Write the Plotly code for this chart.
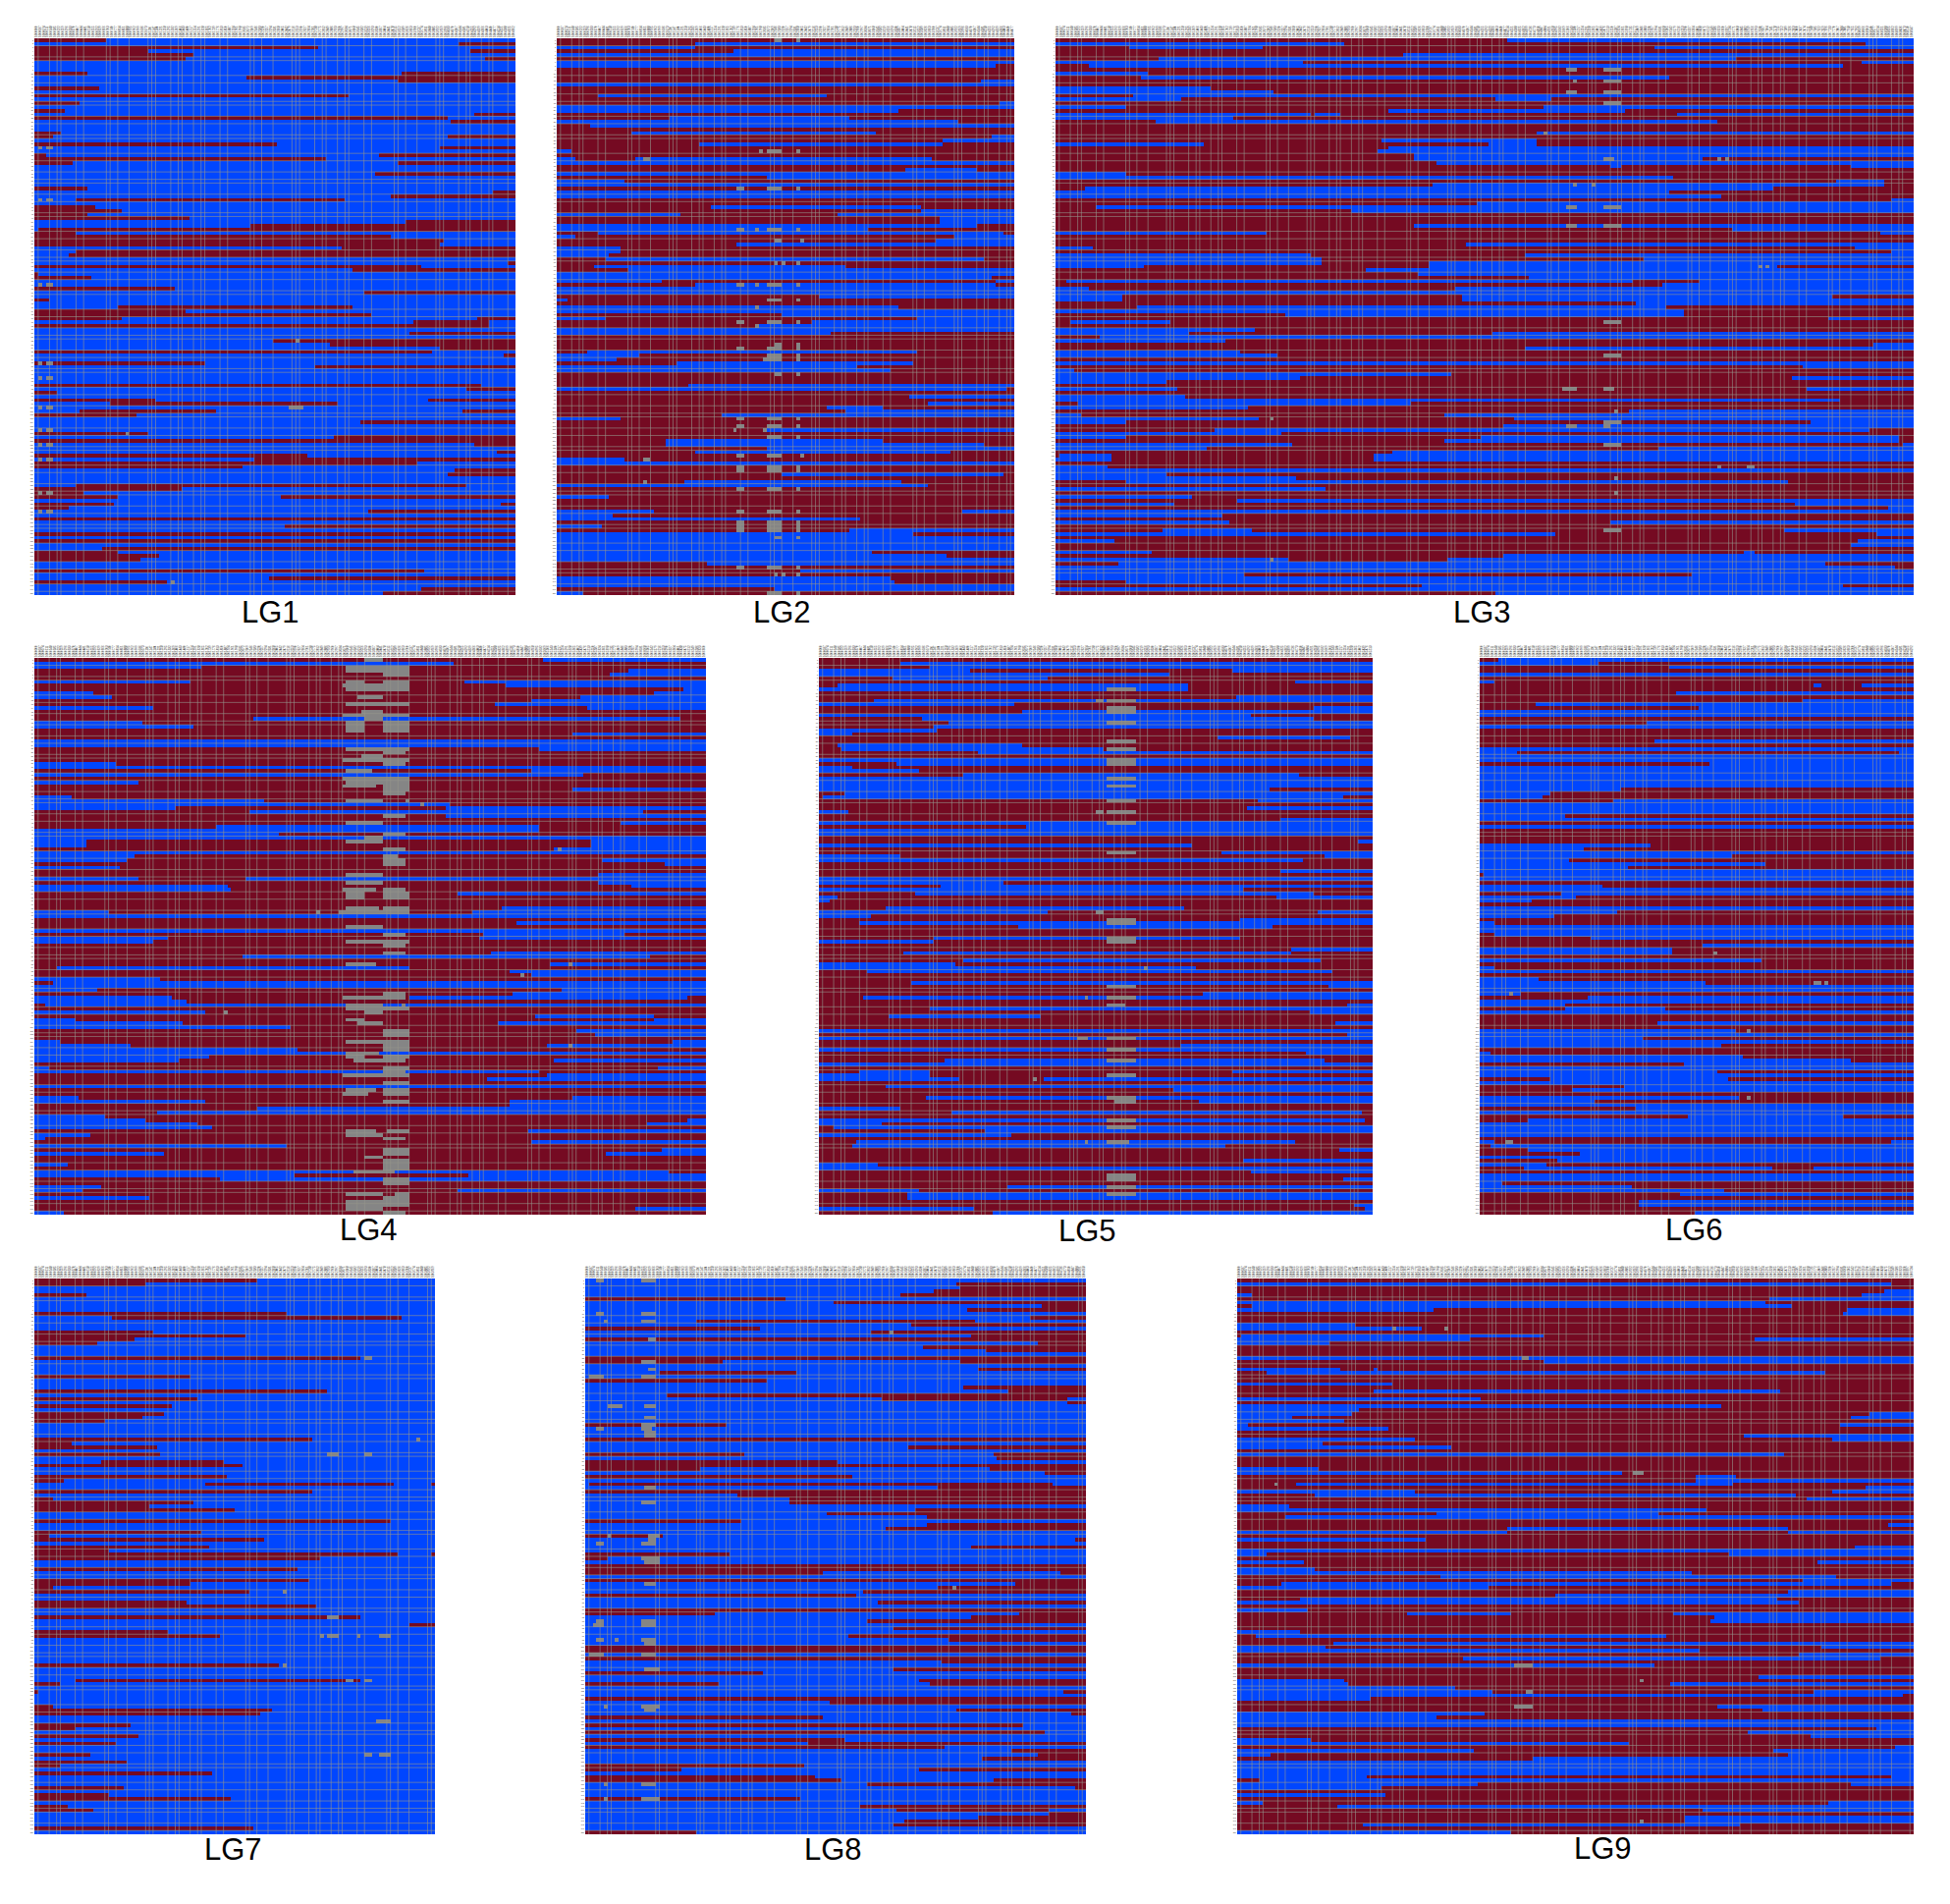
"""genotype blocks per linkage group, 150 lines by markers"""

import re
from itertools import cycle

import plotly.graph_objects as go

W, H = 1986, 1939
RED = "#750A22"
BLUE = "#0046FF"
GRAY = "#858585"
NROW = 150

NAMES = ["LG1", "LG2", "LG3", "LG4", "LG5", "LG6", "LG7", "LG8", "LG9"]
# markers per group
NCOL = [127, 122, 232, 181, 150, 117, 108, 135, 183]
# length of each group in the units used by the row strings below
SPAN = [725, 689, 1449, 1410, 746, 584, 566, 708, 1448]

# each row: colour then the position it runs to, the last colour runs to the end
LG1_ROWS = [
    "r108b","b640r","r426b","r173b658r","r242b","r231b679r","b","b","b","r80b552r",
    "b322r","b546r","b","r96b","b","r473b","b","r68b","b","r48b",
    "b662r","r624b","b630r","b","b","r41b","r29b624r","b","r365b","b608r",
    "b","r18b522r","r439b","r58b546r","b","b","b512r","b","b","b",
    "r80b","b692r","b534r","b63r466b","b","r91b","r130b","r80b","r236b","b562r",
    "b327r","b8r","r63b","r538b","r618b","r608b","b461r","b63r","b51r","b",
    "b714r","r584b","b482r","r7b","r86b","b","b","r214b","b495r","b",
    "r25b","b","b125r478b","r226b","r506b","r130b670r","b573r686b","r686b","b","b567r",
    "b","b361r","b444r","b612r","r600b","b707r","b","r259b","b422r","b",
    "b","b","b","r673b","b651r","r35b","b","r180b596r","b114r455b","b",
    "b69r276b646r","r152b","b","b489r","b","b","r174b","b449r","r","b662r",
    "b","b695r","r412b","b333r","r578b","r315b","b635r","b623r","b","b",
    "b63r650b","r220b","r75b","r125b371r","b","r120b702r","r52b","b500r","b","r",
    "b","b378r","b","r","b","r","b","b103r","r126b","r186b",
    "r158b","b","b","r590b","b","b356r","r198b","b","b583r","b527r",
]
LG2_ROWS = [
    "r","r208b","b208r","r263b","b","r","b","b660r","r","r",
    "r","r638b","b","r","r","r61b404r","r","r667b","b","b516r",
    "r","r168b443r","b605r","r50b","r","r112b482r","r656b","r583b","r217b582r","r",
    "b22r","r","b30r120b565r","b","r","r526b633r","b","r319b","b100r","b",
    "r","b","b","r","r","r229b549r","r549b","b186r426b","r577b","r577b",
    "b633r","b470r","r61b672r","b30r600b","r572b","r273b","b95r","b95r","b78r","r74b645r",
    "r","r56b433r","r106b","b","b656r","b156r661b","r208b661r","b","b","r393b",
    "b17r","r","b516r","b","r337b","b73r544b","r386b","r300b","b","b414r",
    "r","r","r","r","r45b544r","b122r","b90r","r178b538r","b454r","b504r",
    "r","r","r","r200b","b675r","r","r533b","r","r560b","r408b494r",
    "r437b","r251b","b95r","r","r","r319b","r","r","r162b494r","r162b645r",
    "r319b","r208b593r","r","b100r","b","r","r","r341b672r","r","r190b521r",
    "b560r","r","r","b78r","r","r","r","b145r611b","b84r","b459r",
    "r","b68r","r443b","b537r","b","b","b","b","b477r","b589r",
    "b","r224b","r","r369b","r","b505r","b510r","b","r325b","b39r",
]
LG3_ROWS = [
    "r759b","b489r1367b","r125b350r1010b","r","r590b","r175b1148r","b420r1361b","r56b1331r","r","b156r",
    "r145b1034r","r","r","b264r","b370r","r131b","b213r746b840r","r","b119r822b","r565b960r",
    "b434r440b482r1048b","b301r","r170b1117r","r","r","r810b","r","r552b815r","b251r728b815r","r559b",
    "r546b","r603b","r603b1091r","r646b","r936b953r1343b","r","b119r","b1041r","r1317b1400r","r634b1400r",
    "r50b1210r","b1034r","b1122r","r1411b","r715b","r69b","r502b","r","r","r",
    "r608b","r1141b","b358r1392b","r","r","r696b","b63r1350b","r1411b","b434r791b","b452r990b",
    "b452r628b","b151r628b1217r","r527b","r615b","r802b","r18b972r1086b","r1024b","b56r677b","b","b113r684b1312r",
    "b113r684b","r979b","r137b1030r","b1060r","r390b1060r","r1304b","r25b194r","r","b339r","b225r734b",
    "r75b","b287r","r1381b","r796b","b313r","b375r","r","b","r1261b","b32r",
    "b671r","b413r1243b","b188r","r","b207r1267b","r","b219r","b1323r","r36b602r","b326r",
    "r965b","b44r658b","b345r777b","b119r1273b","r753b","r269b1373r","b383r","b119r721b1425r","r653b1425r","b401r1429b",
    "b258r1016b","r570b","r7b95r539b","b95r539b","r","b87r","b","b188r","b407r","r120b1236r",
    "r","b457r","r","b231r","r307b","b200r1248b","r1405b","b","b282r","r",
    "b295r936b","r","r181b331r1229b","b846r1386b","r","b100r1355b","r1343b","r","b163r1160b1178r","r753b",
    "b394r665b","r105b1298r","b1418r","b","b320r1072b","b","r119b","r621b1330r","b","r741b",
]
LG4_ROWS = [
    "r1068b","b882r","b352r","r1247b","r1208b","r","b328r905b","r991b","r1364b","b126r1300b",
    "b165r1146b","r1044b","r966b","b250r1160b","r","r","r460b1356r","b226r","b336r","r",
    "r1130b","r","b","b","r1062b","r","r","r","b172r","b",
    "r1044b","b1153r","r","b220r","r","r1130b","r","b80r","b484r","b873r",
    "b297r866b","r453b1279r","r866b","r","r1232b","r384b1062r","b1062r","b514r","b","b111r1170b",
    "b111r1170b","r1092b","b","b212r","b195r1194b","r1326b","b180r","r","r1186b","b220r446b",
    "r1186b","b408r1257b","b415r","r890b","r","r","r","r982b","b157r921b","b",
    "r","r1014b","r","b","r945b1239r","b282r937b","b250r","r","r","r959b",
    "r438b1293r","r","r1085b","r47b786r","r1000b","r1044b","b266r","r40b","b","b133r1105b",
    "r1006b","b291r786b1371r","b320r","r25b","r","b360r","r1053b1300r","b88r1300b","b312r975b","b538r",
    "r1140b","r1177b","r","b55r1342b","b202r1076b","b555r","b","b366r","b305r1092b","r",
    "b32r1310b","b1062r","r1076b","r952b","r","b","r","r","b95r1130b","b360r999b",
    "r1000b","r470b","r259b","b150r","b235r1370b","b342r1287b","b375r","r1037b","b118r","b25r",
    "r1045b","b531r","r1318b","b274r1201b","r","r","b70r","r","b670r756b1333r","b546r912b",
    "r390b","r","b141r","b103r890b","r","b242r","r","r","r1264b","b63r",
]
LG5_ROWS = [
    "r","r111b","r150b","b205r555b","b470r","r100b310r","r641b","r25b497r","b497r","r",
    "r560b","r75b","b265r","r665b","r275b","b580r","r140b665r","r174b","r155b","b160r",
    "b45r","r535b715r","r","r25b275r","r30b385r","r215b","r","b","r105b","b45r",
    "b135r","r195b645r","b","b","b","b605r","r35b","r5b705r","r590b","r",
    "r575b","b40r","r","r620b","b","r280b","b","b","r","r725b",
    "b500r","r","r540b","b110r680b","b650r","r","r","r620b","r","b",
    "b250r","r165b","b570r","r130b665r","b25r615b","b15r","r","r90b490r","b310r670b","b70r",
    "r565b","r55b","r270b610r","r","r","r155b565r","b155r","r","r635b","r115b635r",
    "r","r195b675r","b185r","b505r","r65b690r","r","r","r125b","r685b","r",
    "r515b","r60b","r","r710b","r150b","r660b","r95b300r","r","r695b","r",
    "b","r710b","b","r","r485b","b","r655b","r","r170b680r","b",
    "r","r55b150r555b","b150r","b190r305b","r","r90b","r475b","r","r145b","r510b",
    "r","b110r","r180b730r","r","b735r","b85r","r20b","r225b","b260r","r",
    "r50b640r","r45b545r","r700b","r","r","r570b","b80r","b","r580b","r",
    "r705b","r","r255b","b135r","r120b","r120b","r","r720b","b210r735b","r235b",
]
LG6_ROWS = [
    "r25b","b160r","r255b","r","b","r","b20r","r450b460r515b","r","r265b",
    "r","r435b","r75b","r295b","b","b","r","r225b","b","r",
    "r","r","r235b","r","b","b50r565b","b","b","r310b","b",
    "b","b","b","b","b","b190r","b95r","b85r","r180b","b",
    "b","b","b115r","b","r","b","r","r","r","r",
    "b230r","b140r","b","b340r","b120r","b385r","b200r","b","r5b","b",
    "r","b165r","b","r110b","b130r","b70r","r","b","b185r","b100r",
    "r","b20r","b","b","r20b","r150b","r","r300b","b260r","b260r",
    "r","b380r","r","b20r","b","r","b80r","b305r","b","b",
    "b55r","r145b","b","b115r","r115b250r","b","r","r","r240b","r",
    "b345r","b","b220r","b","b325r","r","b15r","b355r","b500r","r275b",
    "b","b320r","b","r95b335r","b","r195b","r125b","r","b350r","b155r",
    "b","r210b","b","r280b490r","r65b","b","b","b","b","r",
    "b20r555b","r15b","r65b","r135b","b","r105b","b90r","r60b395r450b","r","b",
    "b","b30r","b205r","b330r","r270b","r","r215b","r215b","r","r290b",
]
LG7_ROWS = [
    "r316b","r158b","b","b","r74b","b","b","b","b","r358b",
    "b111r519b","b","b","b","r167b","r299b","r142b","r90b","b","b",
    "b","r462b","b","b","b","b","r221b","b","b","b",
    "r414b","b","r231b","b","r194b","b","r184b","r152b","r101b","b",
    "b","b","b","r393b","r52b","r173b","b","r179b","b","b94r267b",
    "r294b","b","b","r272b","r43b","b242r508b560r","b","r393b","b","r26b",
    "r225b","r163b","r283b","b","b","r502b","b","b","r236b","r22b",
    "r326b","b","r247b","r106b","r513b560r","r402b","b","b","r372b","b",
    "b","r388b","r221b","r26b","r303b","b","b","r217b","r398b","b",
    "b","r462b","b","b530r","b","r190b","r262b","b","b","b",
    "b","b","b","b","r346b","b","b","b","b59r462b","r37b",
    "b","r7b","b","b","b","r26b","r335b","r319b","b","b",
    "r136b","r58b","b","r148b","b","r117b","b","b","r80b","b",
    "r131b","r37b","b","r252b","b","b","b","r126b","b","r106b",
    "r278b","b","r49b","r85b","b","b","b","b","r310b","b",
]
LG8_ROWS = [
    "b","b526r","b530r","b494r","b447r","r284b","b353r","b645r","b541r","b",
    "b630r","b155r550b","b462r","r246b","b405r","b547r","r","b640r","b477r","b567r",
    "b","r","r196b530r","b","b555r","b105r299b","b","r257b","b","b535r",
    "b598r","b116r","b420r680b","b682r","b","b","b","b","b","r200b",
    "b","b","b","r","b","b457r","b","r226b576r","b582r","r357b",
    "r","r165b572r","b650r","r378b","b","b7r661b","b500r","r","b216r","b290r",
    "b290r","b","b468r","b341r","b483r","r222b","b484r","b426r","b","r111b",
    "b692r","b","b546r","b","r204b","r32b","b","r","r","r336b672r",
    "b","r","b608r","b500r","b394r","r384b","b","b415r","b","r",
    "r185b615r","b546r","b400r","b","b436r","b","b373r","b514r","b","r",
    "r","b","r","b504r","b","b436r","r253b","b","b473r","r190b490r",
    "b","b676r","b","r","b346r","b","b526r","b686r","r336b","b",
    "r619b","b","r650b","b","r368b","b315r","r508b","b604r","b640r","b562r",
    "b","r311b","r137b472r","b","r326b","r362b575r","b400r","b692r","b","b",
    "r305b","b","b390r","b440r655b","b655r","b556r","b452r","b436r","b","r158b",
]
LG9_ROWS = [
    "r","b1402r","r","r1387b","b32r1338b","r1142b","b1132r","r32b1187r","b419r1306b","r1300b",
    "r","r","b253r","b396r","r","r8b656r","b498r1110b","b198r","r","r",
    "r","b","r656b","r","b223r292b300r","r63b1260r","r","r","b332r","r",
    "r292b1163r","r","b523r","r","b1036r","b262r","b246r1355b","b119r1314b","b230r","b25r1291b",
    "b324r","r","r1087b","b379r1275b","b182r","b459r","r","b1173r","r","r",
    "r","b173r","b822r","r982b1068r","r982b","r126b1060r","r1347b","b379r1275b","r166b1195r","r1220b",
    "r","b111r","b1005r","r428b903r","r103b","r","r1393b","r578b1180r","b578r1180b","r",
    "b404r","r","r1322b","b","b63r1053b","r","b142r1242b","r","b166r","b974r",
    "r436b1282r","r1211b","r95b1402r","b537r","r1179b","r681b","r136b1155r","b1203r","r","b150r",
    "r364b585r935b","r1022b","r1014b","r","r","b136r","r40b918r","r","r205b","b191r1252b",
    "b990r","r1203b","r483b1380r","r","b894r","r","r","r1117b","b230r","b238r927b",
    "b467r","b547r1235b","b1425r","b285r","r","r1030b","r1125b","b530r","b429r","b",
    "b","r1368b","r1093b","r1228b","b157r","b840r","r1408b","b507r1150b","b71r1180b","r634b",
    "b","b","b","b","b278r1402b","r46b","b515r1314b","b311r","r","b316r",
    "r","b56r1266b","r214b","r997b","r","r958b","r958b","r269b1076r","r","b585r",
]

# missing calls: from, to, rows
LG1_GRAY = [
    (8, 14, [29, 43, 66, 87, 91, 99, 105, 109, 113, 122, 127]),
    (18, 30, [29, 43, 66, 87, 91, 99, 105, 109, 113, 122, 127]),
    (383, 405, [99]), (138, 143, [106]), (203, 214, [146]), (395, 400, [81]),
]
LG2_GRAY = [
    (319, 341, [30, 40, 51, 66, 70, 76, 83, 85, 102, 104, 107, 112, 115, 116, 121, 127, 130, 131, 132, 142, 149]),
    (325, 341, [0, 54, 82, 90, 134]), (313, 341, [86]),
    (325, 330, [60, 144]), (337, 341, [60, 144]),
    (359, 369, [0, 30, 40, 51, 60, 66, 70, 76, 82, 83, 85, 86, 90, 102, 104, 107, 115, 116, 121, 127, 130, 131, 132, 134, 142, 144, 149]),
    (365, 369, [54, 112]),
    (273, 285, [51, 66, 83, 102, 104, 112, 115, 116, 121, 130, 131, 132]),
    (273, 281, [40, 76, 127, 142]),
    (297, 303, [51, 66, 72, 77]), (303, 309, [30]), (128, 139, [32, 113]), (128, 134, [119]),
    (265, 270, [105]), (313, 319, [105]),
]
LG3_GRAY = [
    (859, 883, [8]), (865, 883, [14, 45, 50, 104]), (853, 883, [94]), (877, 883, [11]), (872, 883, [39]),
    (922, 953, [8, 11, 14, 17, 45, 50, 76, 85, 103, 109, 132]), (922, 946, [32, 94]), (922, 934, [104]),
    (940, 946, [100, 118, 122]), (822, 828, [25]), (1117, 1123, [32, 115]), (1129, 1135, [32]),
    (903, 909, [39]), (1185, 1191, [61]), (1198, 1204, [61]), (362, 368, [102, 140]), (1167, 1179, [115]),
]
LG4_GRAY = [
    (654, 787, [2, 3, 8, 12, 24, 33, 94, 103, 146, 147]),
    (647, 787, [7, 15, 27, 32, 112]),
    (640, 787, [68]),
    (654, 694, [6, 17, 18, 19, 63, 64, 97, 107]),
    (654, 734, [38, 44, 49, 58, 60, 72, 76, 93, 128, 144, 148]),
    (694, 734, [0, 16, 48, 95, 134]),
    (687, 734, [14, 26]), (679, 734, [10, 98]), (654, 710, [30]), (654, 717, [82, 116, 127]),
    (654, 727, [67, 106]), (647, 717, [34, 62]), (647, 702, [117]), (672, 734, [108]), (672, 757, [138]),
    (734, 787, [4, 6, 17, 18, 19, 34, 35, 63, 64, 67, 76, 100, 101, 104, 105, 107, 110, 114, 116, 117, 119, 132, 133, 135, 136, 137, 140, 141, 145]),
    (734, 780, [25, 28, 36, 42, 47, 51, 54, 55, 62, 74, 77, 79, 90, 108, 111, 129, 149]),
    (734, 765, [53]), (647, 780, [91]), (772, 780, [93]), (780, 787, [38]), (742, 787, [127]), (757, 787, [144]),
    (1099, 1107, [51]), (811, 817, [39]), (593, 600, [68]), (1124, 1130, [82, 104]), (1023, 1031, [85]), (399, 407, [95]),
]
LG5_GRAY = [
    (390, 426, [8, 11, 13, 14, 17, 22, 24, 27, 28, 32, 34, 38, 41, 44, 52, 70, 71, 75, 76, 88, 91, 102, 105, 108, 112, 118, 124, 126, 139, 140, 142, 144]),
    (390, 415, [93]), (390, 420, [130]), (400, 426, [119]),
    (375, 381, [11, 41, 68]), (440, 445, [83]), (360, 365, [91]), (350, 365, [102]), (286, 291, [113]), (356, 365, [130]),
]
LG6_GRAY = [
    (314, 319, [79]), (449, 460, [87]), (464, 469, [87]), (38, 44, [90]), (359, 365, [100, 118]), (33, 44, [130]),
]
LG7_GRAY = [
    (467, 477, [21, 47, 108, 128]), (541, 546, [43]), (414, 431, [47, 91, 96]), (352, 357, [84, 104]),
    (403, 410, [96]), (456, 462, [96]), (488, 503, [96, 128]), (441, 451, [108]), (482, 503, [119]),
]
LG8_GRAY = [
    (17, 28, [0, 9, 40, 71, 92, 97]), (7, 28, [26, 101]), (12, 28, [93]), (24, 28, [11, 115, 136, 140]),
    (33, 54, [34]), (32, 39, [69]), (43, 49, [97]),
    (80, 101, [0, 9, 11, 22, 26, 39, 60, 71, 92, 93, 97, 101, 136]),
    (85, 101, [34, 37, 41, 42, 56, 82, 98, 116]), (90, 101, [16, 24, 70]),
    (80, 96, [40]), (90, 106, [69]), (80, 106, [75, 115, 140]), (85, 106, [76, 105]),
    (520, 526, [83]), (431, 437, [14]),
]
LG9_GRAY = [
    (332, 341, [13]), (443, 452, [13]), (610, 624, [21]), (847, 871, [52]), (79, 86, [55]),
    (594, 635, [104, 115]), (862, 871, [108, 146]), (618, 635, [111]),
]

ALL_ROWS = [LG1_ROWS, LG2_ROWS, LG3_ROWS, LG4_ROWS, LG5_ROWS, LG6_ROWS, LG7_ROWS, LG8_ROWS, LG9_ROWS]
ALL_GRAY = [LG1_GRAY, LG2_GRAY, LG3_GRAY, LG4_GRAY, LG5_GRAY, LG6_GRAY, LG7_GRAY, LG8_GRAY, LG9_GRAY]

# panel boxes in pixels: left, right, top, bottom
BOX = [
    (35, 525, 39, 606), (567, 1033, 39, 606), (1075, 1949, 39, 606),
    (35, 719, 670, 1237), (834, 1398, 670, 1237), (1507, 1949, 670, 1237),
    (35, 443, 1302, 1868), (596, 1106, 1302, 1868), (1260, 1949, 1302, 1868),
]
# caption centres in pixels
CAPTION = [
    (275, 624), (796, 624), (1509, 624),
    (375, 1252), (1107, 1253), (1725, 1252),
    (237, 1883), (848, 1883), (1632, 1882),
]

# irregular spacing of the thin cell borders that stay visible
VGAPS = [1, 3, 2, 1, 4, 2, 6, 1, 2, 3, 5, 1, 1, 4, 2]
HGAPS = [2, 3, 1, 4, 2, 3, 2, 1, 3]


def parse_row(text, ncol, span):
    row = []
    parts = re.findall(r"([rb])(\d*)", text)
    for colour, end in parts:
        stop = round(int(end) / span * ncol) if end else ncol
        row += [1 if colour == "r" else 0] * (stop - len(row))
    return row[:ncol]


def grid_lines(size, gaps):
    out = []
    pos = -0.5
    for g in cycle(gaps):
        pos += g
        if pos >= size - 0.5:
            return out
        out.append(pos)


fig = go.Figure()
layout = {}

for i, name in enumerate(NAMES):
    ncol, span = NCOL[i], SPAN[i]
    z = [parse_row(r, ncol, span) for r in ALL_ROWS[i]]
    #missing calls on top of the blocks
    for start, stop, rows in ALL_GRAY[i]:
        c0 = round(start / span * ncol)
        c1 = max(c0 + 1, round(stop / span * ncol))
        for r in rows:
            z[r][c0:c1] = [2] * (c1 - c0)

    xa, ya = f"x{i + 1}", f"y{i + 1}"
    left, right, top, bottom = BOX[i]
    fig.add_trace(go.Heatmap(
        z=z, xaxis=xa, yaxis=ya, zmin=0, zmax=2, showscale=False, hoverinfo="skip",
        colorscale=[[0, BLUE], [0.33, BLUE], [0.33, RED], [0.66, RED], [0.66, GRAY], [1, GRAY]],
    ))

    #cell borders
    lx, ly = [], []
    for c in grid_lines(ncol, VGAPS):
        lx += [c, c, None]
        ly += [-0.5, NROW - 0.5, None]
    for r in grid_lines(NROW, HGAPS):
        lx += [-0.5, ncol - 0.5, None]
        ly += [r, r, None]
    fig.add_trace(go.Scatter(
        x=lx, y=ly, xaxis=xa, yaxis=ya, mode="lines", hoverinfo="skip", showlegend=False,
        line=dict(color="rgba(150,150,140,0.6)", width=1),
    ))

    col_labels = [str(1000000 + c * 37) for c in range(ncol)]
    row_labels = [str(r + 1) for r in range(NROW)]
    layout[f"xaxis{i + 1}"] = dict(
        domain=[left / W, right / W], range=[-0.5, ncol - 0.5], anchor=ya, side="top",
        tickmode="array", tickvals=list(range(ncol)), ticktext=col_labels, tickangle=-90,
        tickfont=dict(size=3, family="Liberation Sans", color="#222222"),
        ticks="", showgrid=False, zeroline=False, showline=False,
    )
    layout[f"yaxis{i + 1}"] = dict(
        domain=[1 - bottom / H, 1 - top / H], range=[NROW - 0.5, -0.5], anchor=xa,
        tickmode="array", tickvals=list(range(NROW)), ticktext=row_labels,
        tickfont=dict(size=2, family="Liberation Sans", color="#222222"),
        ticks="", showgrid=False, zeroline=False, showline=False,
    )

captions = [
    dict(text=n, x=c[0] / W, y=1 - c[1] / H, xref="paper", yref="paper", showarrow=False,
         xanchor="center", yanchor="middle", font=dict(size=31, family="Liberation Sans", color="black"))
    for n, c in zip(NAMES, CAPTION)
]

fig.update_layout(
    width=W, height=H, autosize=False, margin=dict(l=0, r=0, t=0, b=0),
    paper_bgcolor="white", plot_bgcolor="white", showlegend=False, annotations=captions,
    **layout,
)

fig.write_html("out.html", config={"displayModeBar": False}, post_script="document.body.style.margin='0';")
